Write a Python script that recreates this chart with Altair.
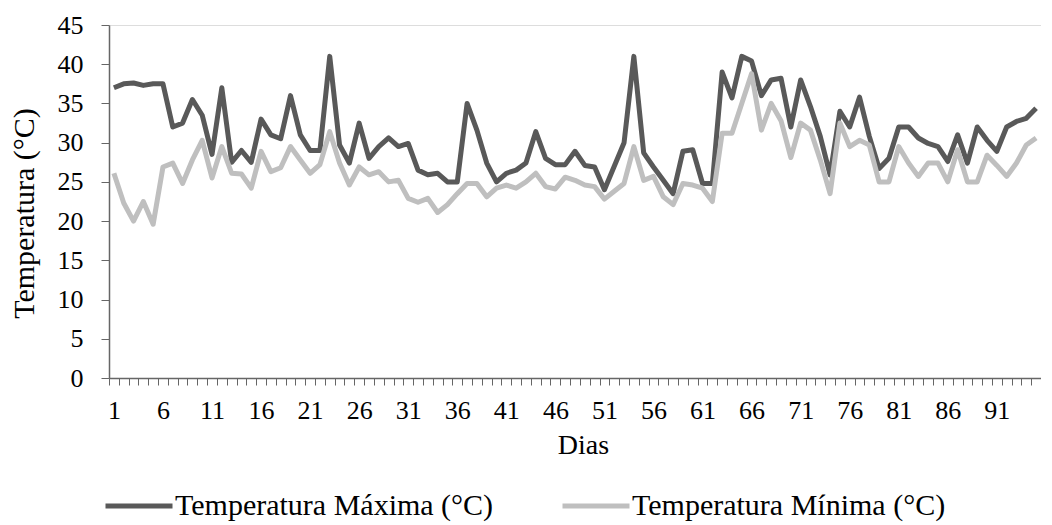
import altair as alt
import pandas as pd

days = list(range(1, 96))

t_max = [37, 37.5, 37.6, 37.3, 37.5, 37.5, 32, 32.5, 35.5, 33.5,
         28.5, 37, 27.5, 29, 27.5, 33, 31, 30.5, 36, 31,
         29, 29, 41, 29.7, 27.4, 32.5, 28, 29.5, 30.6, 29.5,
         29.9, 26.5, 25.9, 26.1, 25, 25, 35, 31.6, 27.4, 25,
         26.1, 26.5, 27.4, 31.4, 28, 27.2, 27.2, 28.9, 27.1, 26.9,
         24, 27, 30, 41, 28.7, 26.9, 25.2, 23.5, 28.9, 29.1,
         24.8, 24.8, 39, 35.7, 41, 40.4, 36, 38, 38.2, 32,
         38, 34.6, 30.8, 25.9, 34, 32, 35.8, 30.8, 26.7, 28,
         32, 32, 30.6, 29.9, 29.5, 27.6, 31, 27.4, 32, 30.3,
         28.9, 32, 32.7, 33.1, 34.4]

t_min = [26.1, 22.3, 20, 22.5, 19.6, 26.9, 27.4, 24.8, 27.8, 30.3,
         25.5, 29.5, 26.1, 26, 24.2, 28.9, 26.3, 26.8, 29.5, 27.8,
         26.1, 27.2, 31.4, 27.4, 24.6, 26.9, 25.9, 26.3, 25, 25.2,
         22.9, 22.4, 22.9, 21.1, 22.1, 23.5, 24.8, 24.8, 23.1, 24.2,
         24.6, 24.2, 25, 26.1, 24.4, 24.1, 25.6, 25.2, 24.6, 24.4,
         22.8, 23.8, 24.8, 29.5, 25.2, 25.7, 23.1, 22.1, 24.8, 24.6,
         24.2, 22.5, 31.2, 31.2, 35, 38.8, 31.6, 35, 32.8, 28.1,
         32.5, 31.6, 27.8, 23.5, 32.5, 29.5, 30.3, 29.7, 25, 25,
         29.5, 27.4, 25.7, 27.4, 27.4, 25, 29.1, 25, 25, 28.4,
         27.1, 25.7, 27.4, 29.7, 30.6]

series = ["Temperatura Máxima (°C)", "Temperatura Mínima (°C)"]
colors = ["#595959", "#BFBFBF"]
y_ticks = list(range(0, 50, 5))
x_ticks = [d - 0.5 for d in days] + [days[-1] + 0.5]

rows = []
for s, vals in zip(series, [t_max, t_min]):
    for d, v in zip(days, vals):
        rows.append({"Dia": d, "Temp": v, "Serie": s})
df = pd.DataFrame(rows)

W = 932
H = 353
step = W / len(days)
font = "Liberation Serif"

chart = alt.Chart(df).mark_line(strokeWidth=5, strokeJoin="round").encode(
    x=alt.X("Dia:Q",
            scale=alt.Scale(domain=[0.5, 95.5], nice=False, zero=False),
            axis=alt.Axis(values=x_ticks,
                          labelExpr="(datum.value < 95) && ((datum.value - 0.5) % 5 == 0) ? format(datum.value + 0.5, 'd') : ''",
                          labelOffset=step / 2, labelFlush=False, labelOverlap=False,
                          tickSize=7, labelPadding=12, grid=False,
                          domainColor="#666666", tickColor="#666666", domainWidth=1.5,
                          labelFont=font, labelFontSize=26, labelColor="#000000",
                          title="Dias", titleFont=font, titleFontSize=28, titleFontWeight="normal",
                          titleColor="#000000", titleBaseline="alphabetic", titleX=474, titleY=75)),
    y=alt.Y("Temp:Q",
            scale=alt.Scale(domain=[0, 45], nice=False),
            axis=alt.Axis(values=y_ticks, tickSize=8, labelPadding=18, grid=False,
                          domainColor="#666666", tickColor="#666666", domainWidth=1.5,
                          labelFont=font, labelFontSize=26, labelColor="#000000",
                          title="Temperatura (°C)", titleFont=font, titleFontSize=30,
                          titleFontWeight="normal", titleColor="#000000",
                          titleBaseline="alphabetic", titleAngle=270, titleX=-76, titleY=188)),
    color=alt.Color("Serie:N",
                    scale=alt.Scale(domain=series, range=colors),
                    legend=alt.Legend(title=None, orient="none", direction="horizontal",
                                      legendX=-6, legendY=445,
                                      symbolType="stroke", symbolSize=4489, symbolStrokeWidth=5,
                                      labelFont=font, labelFontSize=30, labelColor="#000000",
                                      labelOffset=0, columnPadding=58, labelLimit=500)),
    order=alt.Order("Serie:N")
).properties(
    width=W, height=H,
    autosize=alt.AutoSizeParams(type="none"),
    padding={"left": 101, "top": 17, "right": 0, "bottom": 146}
).configure_view(stroke=None).configure(background="white")

chart.save("out.html", embed_options={"renderer": "svg", "actions": False})
